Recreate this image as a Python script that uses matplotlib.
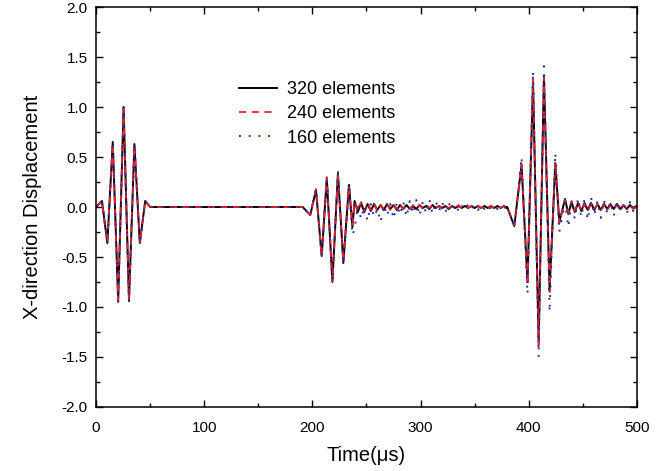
import numpy as np
import matplotlib
matplotlib.use("Agg")
import matplotlib.pyplot as plt
from matplotlib.ticker import MultipleLocator

plt.rcParams['font.family'] = ['Liberation Sans', 'DejaVu Sans']

# wave packet key points (extrema)
p1_t = [0, 5.5, 10.5, 15.5, 20.5, 25.5, 30.5, 35.5, 40.5, 45.5, 50, 190]
p1_320 = [0, 0.06, -0.36, 0.65, -0.94, 1.0, -0.94, 0.63, -0.36, 0.06, 0, 0]
p1_240 = [0, 0.06, -0.35, 0.64, -0.93, 0.99, -0.93, 0.62, -0.35, 0.06, 0, 0]
p1_160 = [0, 0.06, -0.36, 0.65, -0.95, 1.0, -0.95, 0.63, -0.36, 0.06, 0, 0]

p2_t = [191, 198, 203.3, 208.6, 213.3, 218.5, 223.6, 228.6, 233.8, 237]
p2_320 = [0, -0.08, 0.17, -0.49, 0.29, -0.75, 0.34, -0.56, 0.22, -0.2]
p2_240 = [0, -0.08, 0.18, -0.50, 0.30, -0.74, 0.33, -0.55, 0.21, -0.18]
p2_160 = [0, -0.08, 0.18, -0.50, 0.30, -0.76, 0.35, -0.57, 0.22, -0.28]

p3_t = [380, 386.6, 393.3, 398.8, 403.9, 409.1, 414.0, 419.2, 424.5, 428.2, 433.5]
p3_320 = [0, -0.19, 0.42, -0.75, 1.26, -1.36, 1.31, -0.83, 0.44, -0.15, 0.08]
p3_240 = [0, -0.18, 0.43, -0.78, 1.28, -1.38, 1.30, -0.85, 0.45, -0.16, 0.07]
p3_160 = [0, -0.20, 0.50, -0.87, 1.36, -1.50, 1.41, -1.05, 0.54, -0.25, 0.05]

# ripple after packets (3 us sampling)
tail2_320 = [0.06, -0.05, 0.04, -0.05, 0.03, -0.04, 0.03, -0.03, 0.02, -0.03, 0.03, -0.02,
             0.02, -0.03, 0.02, -0.02, 0.02, -0.02, 0.01, -0.02, 0.02, -0.01, 0.01, -0.02,
             0.02, -0.01, 0.01, -0.01, 0.01, -0.02, 0.01, -0.01, 0.01, -0.01, 0.01, -0.01,
             0.01, -0.01, 0.01, -0.01, 0.01, -0.01, 0.01, -0.01, 0.01, -0.01, 0.01, -0.01]
tail2_240 = [0.05, -0.04, 0.05, -0.04, 0.04, -0.03, 0.03, -0.04, 0.02, -0.02, 0.03, -0.03,
             0.02, -0.02, 0.03, -0.02, 0.01, -0.02, 0.02, -0.01, 0.02, -0.02, 0.01, -0.01,
             0.02, -0.01, 0.01, -0.02, 0.01, -0.01, 0.01, -0.01, 0.02, -0.01, 0.01, -0.01,
             0.01, -0.01, 0.01, -0.01, 0.01, -0.01, 0.01, -0.01, 0.01, -0.01, 0.01, 0.0]
tail2_160 = [-0.22, 0.02, -0.12, 0.01, -0.14, 0.03, -0.10, -0.02, -0.15, 0.02, -0.09, 0.03,
             -0.12, 0.04, -0.08, 0.05, -0.10, 0.06, -0.07, 0.07, -0.09, 0.05, -0.06, 0.08,
             -0.07, 0.06, -0.04, 0.05, -0.05, 0.04, -0.03, 0.03, -0.04, 0.02, -0.03, 0.03,
             -0.02, 0.02, -0.03, 0.02, -0.02, 0.02, -0.02, 0.01, -0.02, 0.01, -0.01, 0.0]

tail3_320 = [-0.07, 0.05, -0.05, 0.04, -0.04, 0.04, -0.03, 0.04, -0.03, 0.03, -0.03,
             0.03, -0.02, 0.03, -0.02, 0.03, -0.02, 0.02, -0.02, 0.02, -0.01, 0.01]
tail3_240 = [-0.06, 0.06, -0.04, 0.05, -0.04, 0.03, -0.04, 0.03, -0.02, 0.03, -0.03,
             0.02, -0.03, 0.02, -0.02, 0.02, -0.03, 0.02, -0.01, 0.02, -0.02, 0.0]
tail3_160 = [-0.20, 0.06, -0.12, 0.09, -0.10, 0.08, -0.13, 0.10, -0.08, 0.06, -0.11,
             0.07, -0.06, 0.05, -0.09, 0.06, -0.05, 0.04, -0.07, 0.05, -0.04, 0.02]


def build(p1, p2, tail2, p3, tail3):
    t = (p1_t + p2_t + list(239 + 3 * np.arange(len(tail2))) + p3_t
         + list(436.5 + 3 * np.arange(len(tail3))))
    d = p1 + p2 + tail2 + p3 + tail3
    return np.array(t), np.array(d)


t320, d320 = build(p1_320, p2_320, tail2_320, p3_320, tail3_320)
t240, d240 = build(p1_240, p2_240, tail2_240, p3_240, tail3_240)
t160, d160 = build(p1_160, p2_160, tail2_160, p3_160, tail3_160)

fig = plt.figure(figsize=(6.68, 4.71), dpi=100)
ax = fig.add_axes([0.1437, 0.1359, 0.8099, 0.8492])

ax.plot(t320, d320, color='black', lw=1.4, label='320 elements')
ax.plot(t240, d240, color='#e8202a', lw=1.3, ls=(0, (4, 3)), label='240 elements')
ax.plot(t160, d160, color='#2a2aa8', lw=1.4, ls=(0, (1, 4)), label='160 elements')

ax.set_xlim(0, 500)
ax.set_ylim(-2.0, 2.0)
ax.xaxis.set_major_locator(MultipleLocator(100))
ax.xaxis.set_minor_locator(MultipleLocator(50))
ax.yaxis.set_major_locator(MultipleLocator(0.5))
ax.yaxis.set_minor_locator(MultipleLocator(0.25))
ax.tick_params(which='both', direction='in', top=True, right=True, labelsize=11)
ax.tick_params(which='major', length=5, width=1)
ax.tick_params(which='minor', length=3, width=1)
ax.tick_params(axis='x', pad=10)
ax.tick_params(axis='y', pad=6)
ax.set_yticklabels([f'{v:.1f}' for v in ax.get_yticks()])
for s in ax.spines.values():
    s.set_linewidth(1.1)

ax.set_xlabel('Time(\u03bcs)', fontsize=14.5, labelpad=8)
ax.set_ylabel('X-direction Displacement', fontsize=14.5, labelpad=14)

ax.legend(loc='upper left', bbox_to_anchor=(0.235, 0.855), frameon=False,
          fontsize=13, handlelength=2.1, handletextpad=0.55, labelspacing=0.4)

fig.savefig('out.png', dpi=100)
